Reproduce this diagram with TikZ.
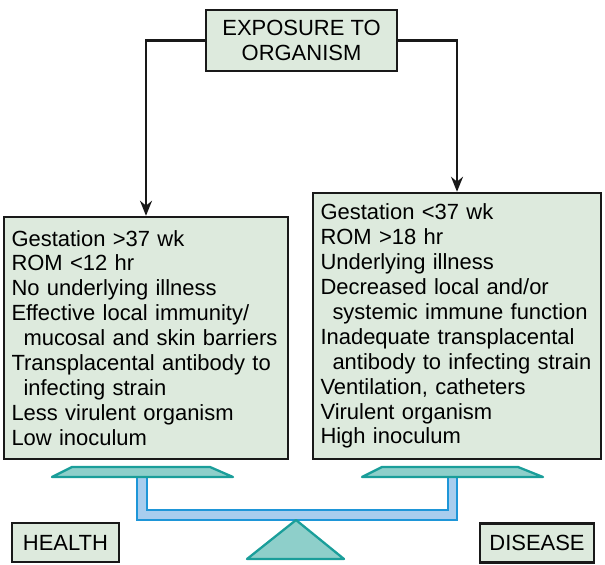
\documentclass[tikz,border=0pt]{standalone}
\usepackage{fontspec}
\setmainfont{Liberation Sans}
\usetikzlibrary{arrows.meta, positioning}
\definecolor{cbox}{HTML}{DDEADD}
\definecolor{cpan}{HTML}{8ECFCA}
\definecolor{cpanline}{HTML}{1A9E9A}
\definecolor{cbeam}{HTML}{A8CDEE}
\definecolor{cbeamline}{HTML}{1E96D8}
\newcommand{\ind}{\hspace*{0.24cm}}
\tikzset{
  every picture/.style={font=\fontsize{12.5}{14.2}\selectfont},
  box/.style={draw=black!90, fill=cbox, line width=1.4pt, inner sep=0pt},
  factors/.style={box, align=left, inner xsep=0.15cm, text width=#1},
  arrow/.style={-{Stealth[length=3mm, width=2.4mm]}, line width=1.2pt, draw=black!90},
  pan/.style={draw=cpanline, fill=cpan, line width=1.3pt, line join=round},
  beam/.style={draw=cbeamline, fill=cbeam, line width=1.3pt},
}

\begin{document}
\begin{tikzpicture}
  \useasboundingbox (0,0) rectangle (12.1,11.28);
  % exposure and the two sets of factors
  \node[box, minimum width=3.82cm, minimum height=1.22cm, align=center] (expo) at (6.03,10.47) {EXPOSURE TO\\ORGANISM};
  \node[factors=5.38cm, minimum height=4.84cm] (protect) at (2.92,4.52)
    {Gestation >37 wk\\ROM <12 hr\\No underlying illness\\Effective local immunity/\\\ind mucosal and skin barriers\\Transplacental antibody to\\\ind infecting strain\\Less virulent organism\\Low inoculum};
  \node[factors=5.46cm, minimum height=5.32cm] (risk) at (9.14,4.76)
    {Gestation <37 wk\\ROM >18 hr\\Underlying illness\\Decreased local and/or\\\ind systemic immune function\\Inadequate transplacental\\\ind antibody to infecting strain\\Ventilation, catheters\\Virulent organism\\High inoculum};
  \draw[arrow] (expo.west) -| (protect.north);
  \draw[arrow] (expo.east) -| (risk.north);
  % the balance
  \draw[beam] (2.74,1.74) -- (2.74,0.88) -- (9.14,0.88) -- (9.14,1.74) -- (8.96,1.74) -- (8.96,1.08) -- (2.94,1.08) -- (2.94,1.74) -- cycle;
  \draw[pan] (1.04,1.74) -- (1.44,1.94) -- (4.20,1.94) -- (4.66,1.74) -- cycle;
  \draw[pan] (7.24,1.74) -- (7.64,1.94) -- (10.36,1.94) -- (10.86,1.74) -- cycle;
  \draw[pan] (5.92,0.88) -- (4.94,0.10) -- (6.88,0.10) -- cycle;
  \node[box, minimum width=2.14cm, minimum height=0.78cm] (health) at (1.31,0.43) {HEALTH};
  \node[box, minimum width=2.28cm, minimum height=0.78cm] (disease) at (10.74,0.42) {DISEASE};
\end{tikzpicture}
\end{document}
